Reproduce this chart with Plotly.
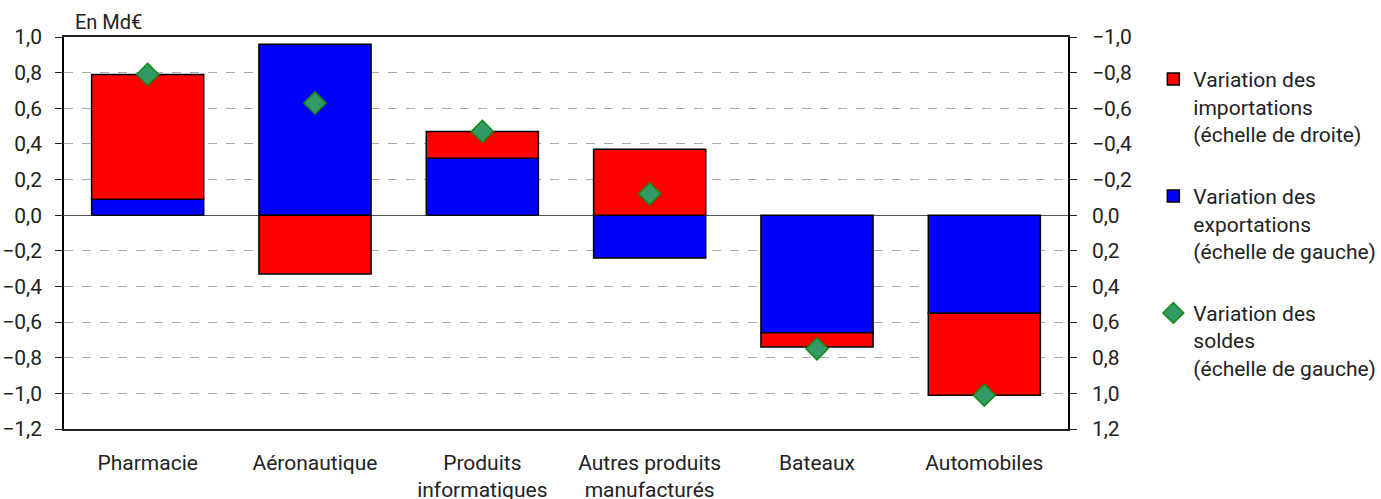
import plotly.graph_objects as go

# values in Md€
categories = ["Pharmacie", "Aéronautique", "Produits<br>informatiques",
              "Autres produits<br>manufacturés", "Bateaux", "Automobiles"]
exports = [0.09, 0.96, 0.32, -0.24, -0.66, -0.55]     # left scale
imports = [-0.70, 0.33, -0.15, -0.37, 0.08, 0.46]     # right scale (reversed)
soldes = [0.79, 0.63, 0.47, 0.12, -0.75, -1.01]       # left scale

FONT = "Roboto, Arial, sans-serif"
BAR_LINE = dict(color="black", width=1.5)

fig = go.Figure()

fig.add_bar(
    x=categories, y=exports, name="Variation des<br>exportations<br>(échelle de gauche)",
    marker=dict(color="#0000ff", line=BAR_LINE), width=0.67,
    legendgroup="exp", legendrank=2,
)
# right axis is the left one mirrored, so imports stack on the left scale as -value
fig.add_bar(
    x=categories, y=[-v for v in imports],
    name="Variation des<br>importations<br>(échelle de droite)",
    marker=dict(color="#ff0000", line=BAR_LINE), width=0.67,
    legendgroup="imp", legendrank=1,
)
fig.add_scatter(
    x=categories, y=soldes, mode="markers",
    name="Variation des<br>soldes<br>(échelle de gauche)",
    marker=dict(symbol="diamond", size=17, color="#339966",
                line=dict(color="#138a13", width=1.5)),
    cliponaxis=False, legendgroup="sol", legendrank=3,
)

fig.update_layout(
    template="none",
    autosize=False, width=1381, height=499,
    barmode="relative",
    separators=", ",
    font=dict(family=FONT, size=21, color="#222"),
    paper_bgcolor="white", plot_bgcolor="white",
    # legend must not push the right margin
    margin=dict(l=64, r=313, t=37, b=70, autoexpand=False),
    showlegend=True,
    legend=dict(
        x=1.085, xanchor="left", y=0.944, yanchor="top",
        traceorder="grouped", tracegroupgap=32, valign="top",
        font=dict(family=FONT, size=21, color="#222"),
        bgcolor="rgba(0,0,0,0)",
    ),
    xaxis=dict(
        range=[-0.5, 5.5], showline=True, linecolor="#222", linewidth=1.5,
        mirror=True, ticks="", showgrid=False, automargin=False,
        ticklabelstandoff=14, zeroline=False,
    ),
    yaxis=dict(
        range=[-1.2, 1.0], dtick=0.2, tickformat=".1f",
        showline=True, linecolor="black", linewidth=1.5,
        ticks="outside", ticklen=7, tickcolor="#222", ticklabelstandoff=9,
        showgrid=True, gridcolor="#aaaaaa", griddash="dash", gridwidth=1,
        zeroline=True, zerolinecolor="#555", zerolinewidth=1.2,
        automargin=False,
    ),
    yaxis2=dict(
        overlaying="y", side="right", range=[1.2, -1.0], dtick=0.2,
        tickformat=".1f", showline=True, linecolor="black", linewidth=1.5,
        ticks="outside", ticklen=7, tickcolor="#222", ticklabelstandoff=11,
        showgrid=False, zeroline=False, automargin=False,
    ),
    annotations=[dict(
        text="En Md€", xref="paper", yref="paper", x=0.009, y=1.0 + 15 / 392,
        xanchor="left", yanchor="middle", showarrow=False,
        font=dict(family=FONT, size=20, color="#222"),
    )],
)

# dummy trace so the right axis gets drawn
fig.add_scatter(x=[categories[0]], y=[0], yaxis="y2", mode="markers",
                marker=dict(opacity=0), showlegend=False, hoverinfo="skip")

# no body margin and no scrollbars, so the figure fills the window exactly
page_js = (
    "document.documentElement.style.overflow = 'hidden';"
    "document.body.style.overflow = 'hidden';"
    "document.body.style.margin = '0';"
)
fig.write_html(
    "out.html",
    config={"responsive": False, "displayModeBar": False},
    post_script=page_js,
)
